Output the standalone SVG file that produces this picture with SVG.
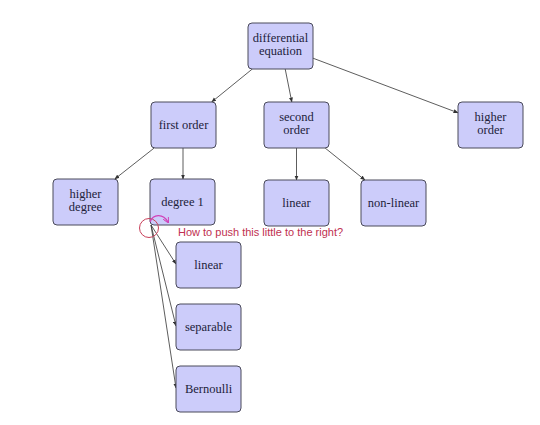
<svg xmlns="http://www.w3.org/2000/svg" width="540" height="425" viewBox="0 0 540 425">
<defs>
<marker id="ah" viewBox="0 0 10 10" refX="9" refY="5" markerWidth="5" markerHeight="5" orient="auto" markerUnits="userSpaceOnUse">
<path d="M0,1 L10,5 L0,9 z" fill="#333"/>
</marker>
<marker id="mh" viewBox="0 0 10 10" refX="8" refY="5" markerWidth="6" markerHeight="6" orient="auto" markerUnits="userSpaceOnUse">
<path d="M0,0 L10,5 L0,10" fill="none" stroke="#d040b8" stroke-width="1.6"/>
</marker>
</defs>
<style>
.box{fill:#ccccfa;stroke:#4a4a5a;stroke-width:1}
.lbl{font-family:'Liberation Serif','Times New Roman',serif;font-size:12.5px;fill:#22223a;text-anchor:middle}
.edge{stroke:#333;stroke-width:0.8;fill:none;marker-end:url(#ah)}
.note{font-family:'Liberation Sans',Arial,sans-serif;font-size:11px;fill:#c03050}
</style>
<rect width="540" height="425" fill="#ffffff"/>
<g id="connectors">
<line class="edge" x1="252.3" y1="69" x2="211.7" y2="102"/>
<line class="edge" x1="285.2" y1="69" x2="291.8" y2="102"/>
<line class="edge" x1="313" y1="58.2" x2="458" y2="112.8"/>
<line class="edge" x1="154.2" y1="148" x2="114.8" y2="179"/>
<line class="edge" x1="183" y1="148" x2="183" y2="179"/>
<line class="edge" x1="296.5" y1="148" x2="296.5" y2="180"/>
<line class="edge" x1="325.1" y1="148" x2="364.9" y2="180"/>
<line class="edge" x1="151" y1="225" x2="176" y2="264"/>
<line class="edge" x1="151" y1="225" x2="176" y2="326"/>
<line class="edge" x1="151" y1="225" x2="176" y2="388"/>
</g>
<g font-family="Liberation Serif, serif">
<g id="n-diffeq"><rect class="box" x="248" y="23" width="65" height="46" rx="4"/><text class="lbl" x="280.5" y="42">differential</text><text class="lbl" x="280.5" y="55">equation</text></g>
<g id="n-first"><rect class="box" x="151" y="102" width="65" height="46" rx="4"/><text class="lbl" x="183.5" y="129">first order</text></g>
<g id="n-second"><rect class="box" x="264" y="102" width="65" height="46" rx="4"/><text class="lbl" x="296.5" y="121">second</text><text class="lbl" x="296.5" y="134">order</text></g>
<g id="n-higher-order"><rect class="box" x="458" y="102" width="65" height="46" rx="4"/><text class="lbl" x="490.5" y="121">higher</text><text class="lbl" x="490.5" y="134">order</text></g>
<g id="n-higher-degree"><rect class="box" x="53" y="179" width="65" height="46" rx="4"/><text class="lbl" x="85.5" y="198">higher</text><text class="lbl" x="85.5" y="211">degree</text></g>
<g id="n-degree1"><rect class="box" x="150" y="179" width="65" height="46" rx="4"/><text class="lbl" x="182.5" y="206">degree 1</text></g>
<g id="n-linear2"><rect class="box" x="264" y="180" width="65" height="46" rx="4"/><text class="lbl" x="296.5" y="207">linear</text></g>
<g id="n-nonlinear"><rect class="box" x="361" y="180" width="65" height="46" rx="4"/><text class="lbl" x="393.5" y="207">non-linear</text></g>
<g id="n-linear1"><rect class="box" x="176" y="242" width="65" height="46" rx="4"/><text class="lbl" x="208.5" y="269">linear</text></g>
<g id="n-separable"><rect class="box" x="176" y="304" width="65" height="46" rx="4"/><text class="lbl" x="208.5" y="331">separable</text></g>
<g id="n-bernoulli"><rect class="box" x="176" y="366" width="65" height="46" rx="4"/><text class="lbl" x="208.5" y="393">Bernoulli</text></g>
</g>
<g id="annotation">
<circle cx="149" cy="228" r="9.5" fill="none" stroke="#c8405a" stroke-width="1"/>
<path d="M150,222 C153,214 163,213 168,222" fill="none" stroke="#d040b8" stroke-width="1.2" marker-end="url(#mh)"/>
<text class="note" x="178" y="236">How to push this little to the right?</text>
</g>
</svg>
